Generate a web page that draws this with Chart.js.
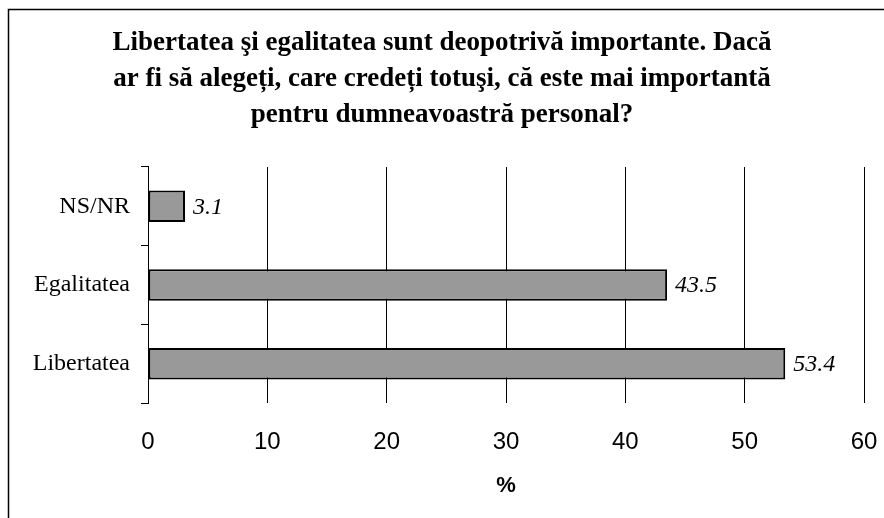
<!DOCTYPE html>
<html>
<head>
<meta charset="utf-8">
<script src="https://cdn.jsdelivr.net/npm/chart.js@4/dist/chart.umd.min.js"></script>
<style>
  html, body { margin: 0; padding: 0; background: #ffffff; }
  #wrap { width: 884px; height: 518px; position: relative; }
</style>
</head>
<body>
<div id="wrap"><canvas id="c" width="884" height="518"></canvas></div>
<script>
const titleLines = [
  'Libertatea şi egalitatea sunt deopotrivă importante. Dacă',
  'ar fi să alegeți, care credeți totuşi, că este mai importantă',
  'pentru dumneavoastră personal?'
];
const categories = ['NS/NR', 'Egalitatea', 'Libertatea'];
const values = [3.1, 43.5, 53.4];
const xTicks = [0, 10, 20, 30, 40, 50, 60];
const xAxisTitle = '%';

const frame = {
  id: 'frame',
  afterDraw(chart) {
    const ctx = chart.ctx;
    ctx.save();
    ctx.strokeStyle = '#000';
    ctx.lineWidth = 1.5;
    ctx.beginPath();
    ctx.moveTo(8.5, 518);
    ctx.lineTo(8.5, 9.5);
    ctx.lineTo(884, 9.5);
    ctx.stroke();
    ctx.restore();
  }
};

const valueLabels = {
  id: 'valueLabels',
  afterDatasetsDraw(chart) {
    const ctx = chart.ctx;
    const meta = chart.getDatasetMeta(0);
    ctx.save();
    ctx.font = 'italic 24px "Liberation Serif", "Times New Roman", serif';
    ctx.fillStyle = '#000';
    ctx.textAlign = 'left';
    ctx.textBaseline = 'middle';
    meta.data.forEach((bar, i) => {
      ctx.fillText(values[i].toFixed(1), bar.x + 8, bar.y + 1);
    });
    ctx.restore();
  }
};

new Chart(document.getElementById('c'), {
  type: 'bar',
  data: {
    labels: categories,
    datasets: [{
      data: values,
      backgroundColor: '#999999',
      borderColor: '#000000',
      borderWidth: 2,
      borderSkipped: false,
      barPercentage: 0.4,
      categoryPercentage: 1.0
    }]
  },
  options: {
    indexAxis: 'y',
    responsive: false,
    animation: false,
    devicePixelRatio: 1,
    layout: { padding: { top: 0, left: 20, right: 20, bottom: 0 } },
    plugins: {
      legend: { display: false },
      tooltip: { enabled: false },
      title: {
        display: true,
        text: titleLines,
        color: '#000',
        font: { family: '"Liberation Serif", "Times New Roman", serif', size: 27, weight: 'bold', lineHeight: 1.3333 },
        padding: { top: 25, bottom: 34 }
      }
    },
    scales: {
      x: {
        type: 'linear',
        min: 0,
        max: 60,
        afterBuildTicks(scale) { scale.ticks = xTicks.map(v => ({ value: v })); },
        afterFit(scale) { scale.height = 115; },
        grid: { color: '#000', lineWidth: 1, drawTicks: true, tickLength: 25, tickColor: 'rgba(0,0,0,0)' },
        border: { display: false },
        ticks: {
          color: '#000',
          padding: 0,
          font: { family: '"Liberation Sans", Arial, sans-serif', size: 24 }
        },
        title: {
          display: true,
          text: xAxisTitle,
          color: '#000',
          font: { family: '"Liberation Sans", Arial, sans-serif', size: 22, weight: 'bold' },
          padding: { top: 0, bottom: 19 }
        }
      },
      y: {
        afterFit(scale) { scale.width = 128; },
        grid: { drawOnChartArea: false, drawTicks: true, tickLength: 7, color: '#000', lineWidth: 1 },
        border: { display: true, color: '#000', width: 1 },
        ticks: {
          color: '#000',
          padding: 11,
          font: { family: '"Liberation Serif", "Times New Roman", serif', size: 24 }
        }
      }
    }
  },
  plugins: [frame, valueLabels]
});
</script>
</body>
</html>
